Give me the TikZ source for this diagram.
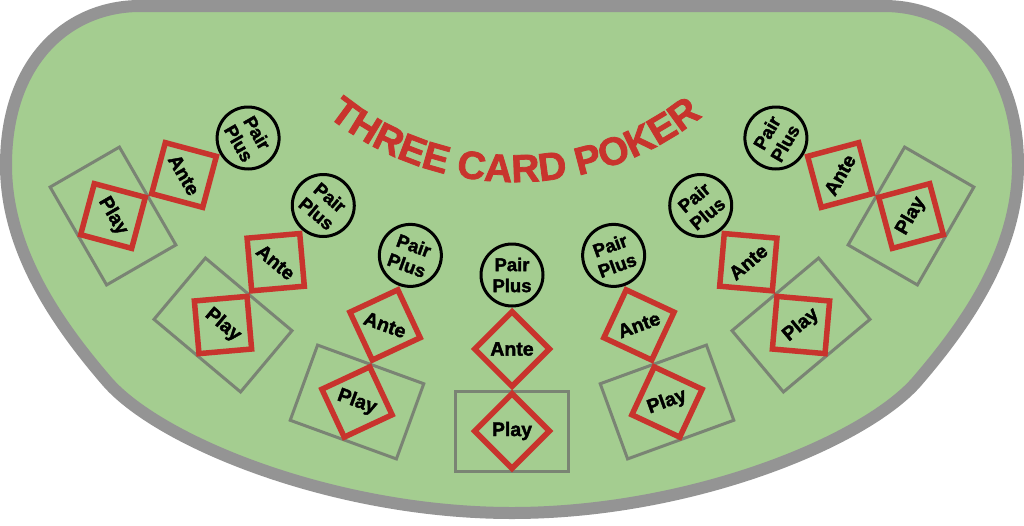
\documentclass[tikz,border=0pt]{standalone}
\usepackage{fontspec}
\setmainfont{Liberation Sans}[BoldFeatures={FakeBold=2}]
\usepackage{tikz}
\usetikzlibrary{shapes.geometric}
\usetikzlibrary{decorations.text}

\definecolor{felt}{RGB}{164,205,144}
\definecolor{railgray}{RGB}{148,148,148}
\definecolor{betred}{RGB}{200,52,45}
\definecolor{boxgray}{RGB}{122,132,116}

\tikzset{
  betdiamond/.style={diamond, draw=betred, line width=5.5pt, minimum size=77pt, inner sep=0pt,
    font=\bfseries\fontsize{19.5}{21}\selectfont},
  playbox/.style={rectangle, draw=boxgray, line width=3pt, minimum width=113pt, minimum height=80pt},
  pairplus/.style={circle, draw=black, line width=3pt, minimum size=62pt, inner sep=0pt, align=center,
    font=\bfseries\fontsize{18.5}{21}\selectfont}
}

\begin{document}
\begin{tikzpicture}[x=1pt, y=1pt]
                \useasboundingbox (0,0) rectangle (1024,-525);
                \fill[white] (0,0) rectangle (1024,-525);

                % Table
                \draw[line width=12pt, draw=railgray, fill=felt]
                  (140,-6) -- (884,-6) .. controls (955,-6) and (1018,-60) .. (1018,-165)
                  .. controls (1018,-245) and (973,-316) .. (919,-379)
                  .. controls (869,-440) and (692,-513) .. (512,-513)
                  .. controls (332,-513) and (155,-440) .. (105,-379)
                  .. controls (51,-316) and (6,-245) .. (6,-165)
                  .. controls (6,-60) and (69,-6) .. (140,-6) -- cycle;

                % Title
                \path[decorate, decoration={text along path, text align=center, text color=betred,
                    text={|\bfseries\fontsize{39}{42}\selectfont|THREE CARD POKER}}]
                  (515,118) ++(230:300) arc[start angle=230, end angle=310, radius=300];

                % Betting spots
                \foreach \i/\x/\y/\a in {1/113/-216/-60, 2/223/-325/-40, 3/357/-402/-20, 4/512/-431/0,
                                         5/667/-402/20, 6/801/-325/40, 7/911/-216/60} {
                  \begin{scope}[shift={(\x,\y)}, rotate=\a, transform shape]
                    \node[playbox] (box\i) at (0,0) {};
                    \node[betdiamond] (play\i) at (0,0) {Play};
                    \node[betdiamond] (ante\i) at (0,82) {Ante};
                    \node[pairplus] (pp\i) at (0,156) {Pair\\Plus};
                  \end{scope}
                }
\end{tikzpicture}
\end{document}
